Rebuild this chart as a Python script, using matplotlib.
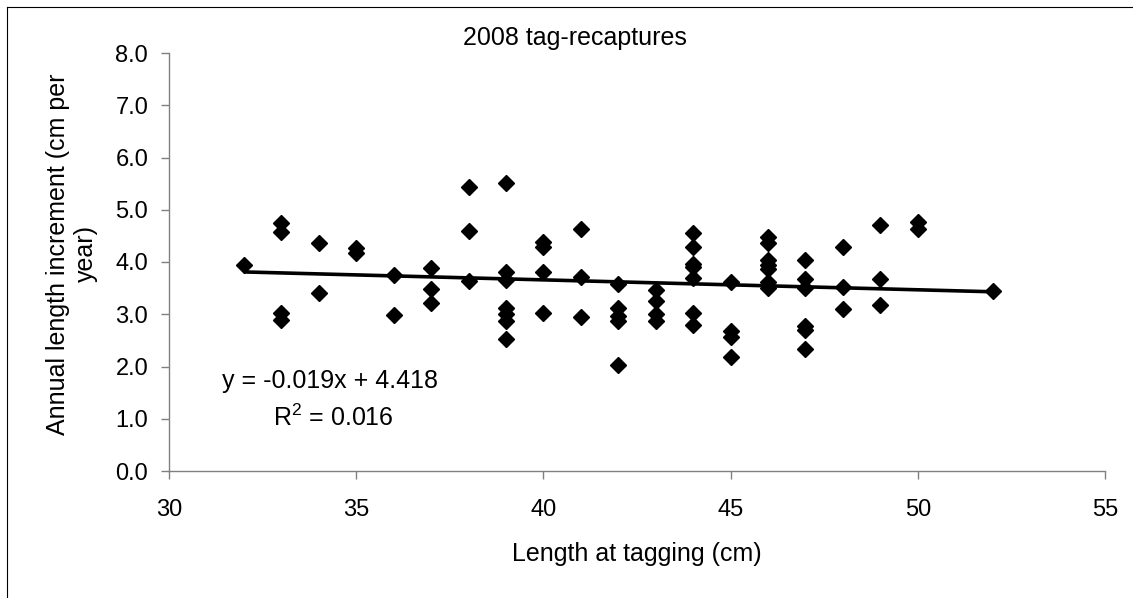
"""Scatter of annual length increment against length at tagging (2008 tag-recaptures)."""

import matplotlib
matplotlib.use("Agg")
import matplotlib.pyplot as plt
from matplotlib.lines import Line2D
import numpy as np

plt.rcParams["font.family"] = ["Liberation Sans", "DejaVu Sans"]
plt.rcParams["mathtext.fontset"] = "custom"
plt.rcParams["mathtext.rm"] = "Liberation Sans"

# length at tagging (cm), one entry per recaptured fish
length_cm = [
    32,
    33, 33, 33, 33,
    34, 34,
    35, 35,
    36, 36,
    37, 37, 37,
    38, 38, 38,
    39, 39, 39, 39, 39, 39, 39,
    40, 40, 40, 40,
    41, 41, 41,
    42, 42, 42, 42, 42,
    43, 43, 43, 43,
    44, 44, 44, 44, 44, 44, 44,
    45, 45, 45, 45,
    46, 46, 46, 46, 46, 46, 46,
    47, 47, 47, 47, 47, 47,
    48, 48, 48,
    49, 49, 49,
    50, 50,
    52,
]
# annual length increment (cm per year)
increment = [
    3.94,
    4.75, 4.58, 3.03, 2.89,
    4.36, 3.40,
    4.26, 4.17,
    3.75, 2.99,
    3.88, 3.48, 3.21,
    5.44, 4.60, 3.64,
    5.52, 3.81, 3.66, 3.12, 3.00, 2.88, 2.53,
    4.39, 4.28, 3.80, 3.02,
    4.63, 3.72, 2.95,
    3.58, 3.12, 2.97, 2.88, 2.03,
    3.46, 3.26, 3.00, 2.87,
    4.56, 4.28, 3.96, 3.90, 3.69, 3.03, 2.79,
    3.62, 2.68, 2.57, 2.19,
    4.47, 4.37, 4.04, 3.94, 3.86, 3.62, 3.50,
    4.03, 3.67, 3.50, 2.78, 2.69, 2.34,
    4.29, 3.53, 3.10,
    4.71, 3.67, 3.18,
    4.77, 4.64,
    3.44,
]

# linear trend as reported on the chart
slope = -0.019
intercept = 4.418
r_squared = 0.016

x_ticks = [30, 35, 40, 45, 50, 55]
y_ticks = [0.0, 1.0, 2.0, 3.0, 4.0, 5.0, 6.0, 7.0, 8.0]

W, H = 1133, 598
AXIS_GREY = "#808080"


def px(x, y):
    """Pixel position -> figure fraction."""
    return x / W, 1 - y / H


fig = plt.figure(figsize=(W / 100, H / 100), dpi=100)
ax = fig.add_axes([169 / W, 1 - 471 / H, (1105 - 169) / W, (471 - 53) / H])

x = np.asarray(length_cm, dtype=float)
y = np.asarray(increment)

ax.plot(x, y, linestyle="none", marker="D", markersize=7.8,
        color="black", zorder=3)

x_fit = np.array([x.min(), x.max()])
ax.plot(x_fit, slope * x_fit + intercept, color="black", lw=2.6,
        solid_capstyle="butt", zorder=2)

ax.set_xlim(30, 55)
ax.set_ylim(0, 8)
ax.set_xticks(x_ticks)
ax.set_xticklabels([str(t) for t in x_ticks])
ax.set_yticks(y_ticks)
ax.set_yticklabels([f"{t:.1f}" for t in y_ticks])

for side in ("top", "right"):
    ax.spines[side].set_visible(False)
for side in ("left", "bottom"):
    ax.spines[side].set_color(AXIS_GREY)
    ax.spines[side].set_linewidth(1.0)
ax.tick_params(axis="both", direction="out", length=6, width=1.0,
               color=AXIS_GREY, labelsize=17)
ax.tick_params(axis="y", pad=9)
ax.tick_params(axis="x", pad=14)

# axis titles and chart title placed as in the reference layout
fig.text(*px(637, 554), "Length at tagging (cm)", fontsize=18,
         ha="center", va="center")
fig.text(*px(72, 254), "Annual length increment (cm per\nyear)", fontsize=18,
         ha="center", va="center", rotation=90, linespacing=1.2,
         multialignment="center")
fig.text(*px(575, 38), "2008 tag-recaptures", fontsize=18,
         ha="center", va="center")

# regression equation
fig.text(*px(330, 381), f"y = {slope:.3f}x + {intercept:.3f}", fontsize=18,
         ha="center", va="center")
fig.text(*px(333, 418), f"R$^2$ = {r_squared:.3f}", fontsize=18,
         ha="center", va="center")

# chart-area border (only left and top edges fall inside the image)
fig.add_artist(Line2D([7 / W, 7 / W], [0, 1 - 7 / H], color="black", lw=0.8,
                      transform=fig.transFigure))
fig.add_artist(Line2D([7 / W, 1], [1 - 7 / H, 1 - 7 / H], color="black", lw=0.8,
                      transform=fig.transFigure))

fig.savefig("out.png", dpi=100)
